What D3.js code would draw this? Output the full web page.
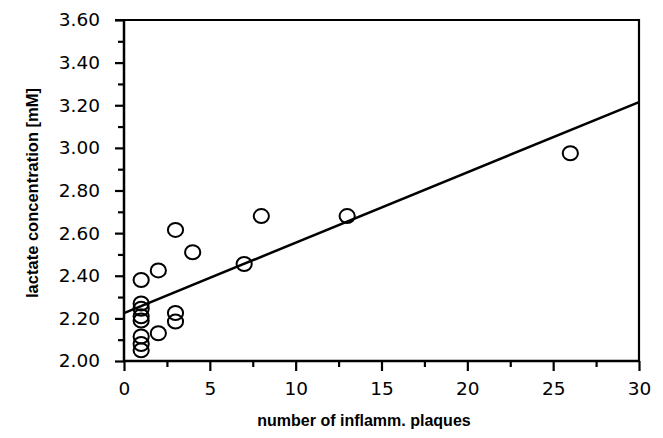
<!DOCTYPE html>
<html>
<head>
<meta charset="utf-8">
<script src="https://cdn.jsdelivr.net/npm/d3@7"></script>
<style>
  html, body { margin: 0; padding: 0; background: #fff; }
  svg { display: block; }
</style>
</head>
<body>
<svg id="chart" width="663" height="438"></svg>
<script>
// ---- data ----
const plaques = [1, 1, 1, 1, 1, 1, 1, 1, 2, 2, 3, 3, 3, 4, 7, 8, 13, 26];
const lactate = [2.38, 2.27, 2.245, 2.21, 2.19, 2.115, 2.08, 2.05, 2.425, 2.13, 2.615, 2.225, 2.185, 2.51, 2.455, 2.68, 2.68, 2.975];
const fitIntercept = 2.225;
const fitSlope = 0.0330;
const xMajorTicks = [0, 5, 10, 15, 20, 25, 30];
const xMinorTicks = [2.5, 7.5, 12.5, 17.5, 22.5, 27.5];
const yMajorTicks = [2.0, 2.2, 2.4, 2.6, 2.8, 3.0, 3.2, 3.4, 3.6];
const yMinorTicks = [2.1, 2.3, 2.5, 2.7, 2.9, 3.1, 3.3, 3.5];
const xTitle = "number of inflamm. plaques";
const yTitle = "lactate concentration [mM]";

// ---- layout ----
const svg = d3.select("#chart");
const L = 124, R = 639, T = 20, B = 361;
const x = d3.scaleLinear().domain([0, 30]).range([L, R]);
const y = d3.scaleLinear().domain([2.0, 3.6]).range([B, T]);
const tickFont = "'DejaVu Sans', sans-serif";

// frame (top and right)
svg.append("path")
  .attr("d", `M${L - 9},${T} H${R} V${B}`)
  .attr("fill", "none").attr("stroke", "#000").attr("stroke-width", 2.2);

// y axis
const yAxisMajor = d3.axisLeft(y).tickValues(yMajorTicks).tickFormat(d3.format(".2f"))
  .tickSize(9).tickPadding(15);
const gy = svg.append("g").attr("transform", `translate(${L},0)`).call(yAxisMajor);
const yAxisMinor = d3.axisLeft(y).tickValues(yMinorTicks).tickFormat("").tickSize(6);
const gy2 = svg.append("g").attr("transform", `translate(${L},0)`).call(yAxisMinor);

// x axis
const xAxisMajor = d3.axisBottom(x).tickValues(xMajorTicks).tickFormat(d3.format("d"))
  .tickSize(10).tickPadding(11);
const gx = svg.append("g").attr("transform", `translate(0,${B})`).call(xAxisMajor);
const xAxisMinor = d3.axisBottom(x).tickValues(xMinorTicks).tickFormat("").tickSize(6);
const gx2 = svg.append("g").attr("transform", `translate(0,${B})`).call(xAxisMinor);

[gy, gy2, gx, gx2].forEach(g => {
  g.select(".domain").attr("stroke", "#000").attr("stroke-width", 2.5);
  g.selectAll(".tick line").attr("stroke", "#000").attr("stroke-width", 2.2);
  g.selectAll(".tick text").attr("fill", "#000")
    .style("font-family", tickFont).style("font-size", "18.5px");
});
gy.select(".domain").attr("d", `M0,${B}V${T}`);
gy2.select(".domain").remove();
gx2.select(".domain").remove();
gx.select(".domain").attr("d", `M${L},0H${R}`);

// regression line
svg.append("line")
  .attr("x1", x(0)).attr("y1", y(fitIntercept))
  .attr("x2", x(30)).attr("y2", y(fitIntercept + fitSlope * 30))
  .attr("stroke", "#000").attr("stroke-width", 2.5);

// points
svg.append("g").selectAll("ellipse")
  .data(plaques.map((p, i) => ({ p, v: lactate[i] })))
  .join("ellipse")
  .attr("cx", d => x(d.p)).attr("cy", d => y(d.v))
  .attr("rx", 7.6).attr("ry", 7.0)
  .attr("fill", "none").attr("stroke", "#000").attr("stroke-width", 2);

// axis titles
svg.append("text")
  .attr("x", 364).attr("y", 426)
  .attr("text-anchor", "middle")
  .style("font-family", "'Liberation Sans', Arial, sans-serif")
  .style("font-weight", "bold").style("font-size", "16px")
  .text(xTitle);

svg.append("text")
  .attr("transform", "translate(38,193) rotate(-90)")
  .attr("text-anchor", "middle")
  .style("font-family", "'Liberation Sans', Arial, sans-serif")
  .style("font-weight", "bold").style("font-size", "16.5px")
  .text(yTitle);
</script>
</body>
</html>
